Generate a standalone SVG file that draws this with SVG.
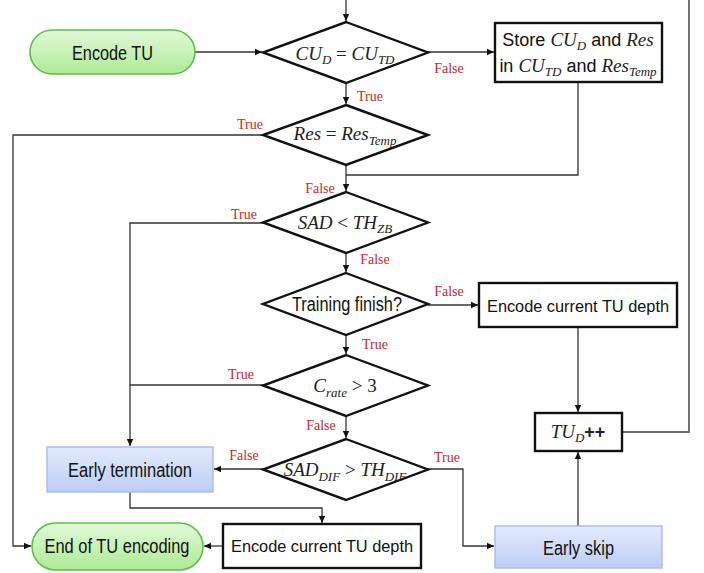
<svg xmlns="http://www.w3.org/2000/svg" width="704" height="573" viewBox="0 0 704 573">
<defs>
<linearGradient id="gGreen" x1="0" y1="0" x2="0" y2="1">
<stop offset="0" stop-color="#e2f9d8"/>
<stop offset="1" stop-color="#aeea96"/>
</linearGradient>
<linearGradient id="gBlue" x1="0" y1="0" x2="0" y2="1">
<stop offset="0" stop-color="#e3eafc"/>
<stop offset="1" stop-color="#bccdf5"/>
</linearGradient>
<marker id="arr" markerWidth="8" markerHeight="8" refX="7" refY="4" orient="auto" markerUnits="userSpaceOnUse">
<path d="M0,0.8 L7,4 L0,7.2 z" fill="#111"/>
</marker>
<style>
.term{fill:url(#gGreen);stroke:#5cbf4a;stroke-width:1.6}
.blue{fill:url(#gBlue);stroke:#a8bbe8;stroke-width:1.4}
.box{fill:#fff;stroke:#111;stroke-width:2.4}
.dia{fill:#fff;stroke:#111;stroke-width:2.4}
.con{fill:none;stroke:#333;stroke-width:1.3}
.t{font-family:"Liberation Sans",Arial,sans-serif;font-size:20px;fill:#111;text-anchor:middle}
.t2{font-family:"Liberation Sans",Arial,sans-serif;font-size:17px;fill:#111;text-anchor:middle}
.s{font-family:"Liberation Sans",Arial,sans-serif;font-size:18px;fill:#111;text-anchor:middle}
.m{font-family:"Liberation Serif","DejaVu Serif",serif;font-style:italic;font-size:19px;fill:#222}
.op{font-style:normal}
.lbl{font-family:"Liberation Serif","Times New Roman",serif;font-size:14px;fill:#c8282a;text-anchor:middle}
</style>
</defs>

<g id="connectors">
<path class="con" d="M346,0 V21" marker-end="url(#arr)"/>
<path class="con" d="M195,52 H262" marker-end="url(#arr)"/>
<path class="con" d="M428,52 H494" marker-end="url(#arr)"/>
<path class="con" d="M346,83 V104" marker-end="url(#arr)"/>
<path class="con" d="M578,82 V175 H346"/>
<path class="con" d="M346,165 V191" marker-end="url(#arr)"/>
<path class="con" d="M263,135 H13 V546 H31" marker-end="url(#arr)"/>
<path class="con" d="M263,223 H130 V446" marker-end="url(#arr)"/>
<path class="con" d="M346,253 V272" marker-end="url(#arr)"/>
<path class="con" d="M428,305 H478" marker-end="url(#arr)"/>
<path class="con" d="M346,335 V354" marker-end="url(#arr)"/>
<path class="con" d="M578,327 V412" marker-end="url(#arr)"/>
<path class="con" d="M263,385 H130"/>
<path class="con" d="M346,416 V438" marker-end="url(#arr)"/>
<path class="con" d="M263,469 H214" marker-end="url(#arr)"/>
<path class="con" d="M428,469 H463 V546 H494" marker-end="url(#arr)"/>
<path class="con" d="M578,526 V452" marker-end="url(#arr)"/>
<path class="con" d="M622,432 H689 V0" style="stroke:#666;stroke-width:1.8"/>
<path class="con" d="M130,492 V508 H322 V523" marker-end="url(#arr)"/>
<path class="con" d="M223,546 H204" marker-end="url(#arr)"/>
<text class="lbl" x="449" y="73">False</text>
<text class="lbl" x="370" y="101">True</text>
<text class="lbl" x="320" y="193">False</text>
<text class="lbl" x="250" y="129">True</text>
<text class="lbl" x="244" y="219">True</text>
<text class="lbl" x="375" y="264">False</text>
<text class="lbl" x="449" y="296">False</text>
<text class="lbl" x="375" y="349">True</text>
<text class="lbl" x="241" y="379">True</text>
<text class="lbl" x="321" y="430">False</text>
<text class="lbl" x="244" y="460">False</text>
<text class="lbl" x="447" y="462">True</text>
</g>

<g id="encode-tu">
<rect class="term" x="30" y="30" width="165" height="44" rx="22"/>
<text class="t" x="112.5" y="60" textLength="81" lengthAdjust="spacingAndGlyphs">Encode TU</text>
</g>

<g id="d1">
<polygon class="dia" points="346,22 428,52.5 346,83 263,52.5"/>
<text class="m" x="345" y="60" text-anchor="middle">CU<tspan font-size="13" dy="4">D</tspan><tspan class="op" dy="-4"> = </tspan>CU<tspan font-size="13" dy="4">TD</tspan></text>
</g>

<g id="store">
<rect class="box" x="495" y="23" width="167" height="59"/>
<text class="s" x="578" y="46">Store <tspan class="m">CU<tspan font-size="13" dy="4">D</tspan></tspan><tspan dy="-4"> and </tspan><tspan class="m">Res</tspan></text>
<text class="s" x="578" y="72">in <tspan class="m">CU<tspan font-size="13" dy="4">TD</tspan></tspan><tspan dy="-4"> and </tspan><tspan class="m">Res<tspan font-size="13" dy="4">Temp</tspan></tspan></text>
</g>

<g id="d2">
<polygon class="dia" points="346,105 428,135 346,165 263,135"/>
<text class="m" x="345" y="140" text-anchor="middle">Res<tspan class="op"> = </tspan>Res<tspan font-size="13" dy="5">Temp</tspan></text>
</g>

<g id="d3">
<polygon class="dia" points="346,192 428,222.5 346,253 263,222.5"/>
<text class="m" x="345" y="229" text-anchor="middle">SAD<tspan class="op"> &lt; </tspan>TH<tspan font-size="13" dy="4">ZB</tspan></text>
</g>

<g id="d4">
<polygon class="dia" points="346,273 428,304 346,335 263,304"/>
<text class="t" x="347" y="311" textLength="110" lengthAdjust="spacingAndGlyphs">Training finish?</text>
</g>

<g id="encode-current-right">
<rect class="box" x="479" y="283" width="198" height="44"/>
<text class="t2" x="578" y="312" textLength="182" lengthAdjust="spacingAndGlyphs">Encode current TU depth</text>
</g>

<g id="d5">
<polygon class="dia" points="346,355 428,385.5 346,416 263,385.5"/>
<text class="m" x="345" y="392" text-anchor="middle">C<tspan font-size="13" dy="5">rate</tspan><tspan class="op" dy="-5"> &gt; 3</tspan></text>
</g>

<g id="tud">
<rect class="box" x="535" y="413" width="87" height="38"/>
<text class="m" x="578" y="438" text-anchor="middle">TU<tspan font-size="13" dy="4">D</tspan><tspan class="op" dy="-4" font-family="Liberation Sans, sans-serif" font-size="18" font-weight="bold">++</tspan></text>
</g>

<g id="d6">
<polygon class="dia" points="346,439 428,469.5 346,500 263,469.5"/>
<text class="m" x="345" y="476" text-anchor="middle">SAD<tspan font-size="13" dy="5">DIF</tspan><tspan class="op" dy="-5"> &gt; </tspan>TH<tspan font-size="13" dy="5">DIF</tspan></text>
</g>

<g id="early-termination">
<rect class="blue" x="47" y="447" width="166" height="45"/>
<text class="t" x="130" y="477" textLength="124" lengthAdjust="spacingAndGlyphs">Early termination</text>
</g>

<g id="early-skip">
<rect class="blue" x="495" y="526" width="167" height="42"/>
<text class="t" x="578.5" y="555" textLength="71" lengthAdjust="spacingAndGlyphs">Early skip</text>
</g>

<g id="encode-current-bottom">
<rect class="box" x="223" y="524" width="198" height="44"/>
<text class="t2" x="322" y="552" textLength="182" lengthAdjust="spacingAndGlyphs">Encode current TU depth</text>
</g>

<g id="end">
<rect class="term" x="32" y="523" width="171" height="47" rx="23.5"/>
<text class="t" x="117" y="553" textLength="145" lengthAdjust="spacingAndGlyphs">End of TU encoding</text>
</g>
</svg>
